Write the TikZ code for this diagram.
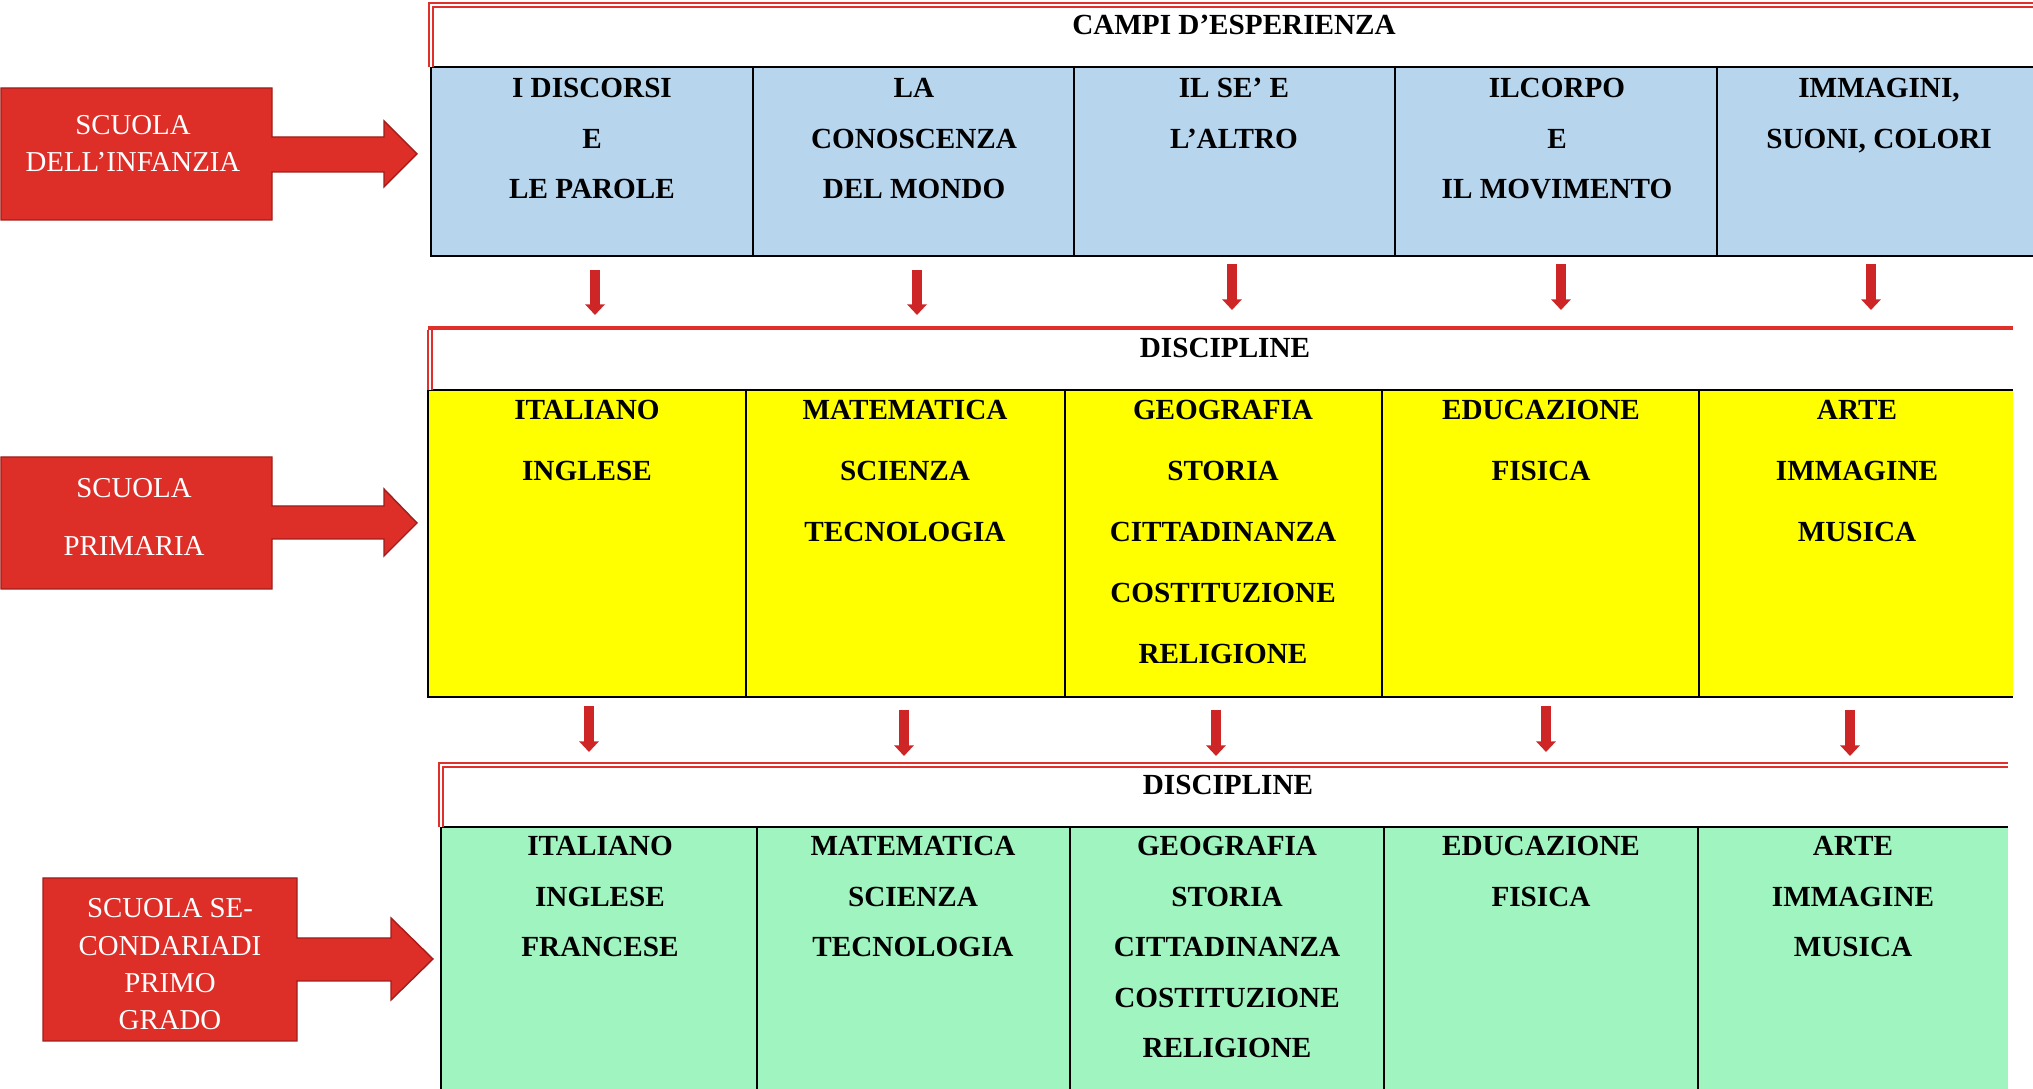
\documentclass[tikz,border=0pt]{standalone}
\usepackage{fontspec}
\setmainfont{Liberation Serif}
\usetikzlibrary{arrows.meta}
\definecolor{schoolred}{RGB}{222,46,40}
\definecolor{schooledge}{RGB}{160,30,28}
\definecolor{headred}{RGB}{224,48,44}
\definecolor{arrowred}{RGB}{206,38,38}
\definecolor{campoblue}{RGB}{183,214,238}
\definecolor{primyellow}{RGB}{255,255,0}
\definecolor{secgreen}{RGB}{160,244,192}
\begin{document}
\begin{tikzpicture}[x=0.01cm, y=-0.01cm, line width=0.55pt,
  every node/.style={inner sep=0pt},
  cell/.style={anchor=north, align=center, font=\bfseries\fontsize{8.3pt}{#1}\selectfont},
  title/.style={font=\bfseries\fontsize{8.3pt}{10pt}\selectfont},
  school/.style={anchor=north, align=center, text=white, font=\fontsize{8.2pt}{#1}\selectfont},
  schoolbox/.style={fill=schoolred, draw=schooledge, line width=0.4pt},
  head/.style={draw=headred, double=white, line width=0.45pt, double distance=0.55pt},
  grid/.style={black, line width=0.55pt},
  downarr/.style={arrowred, line width=2.6pt, -{Triangle[width=5.4pt,length=3pt]}}]
  % page frame (1 unit = 1 px of the 2033 x 1089 picture, y downwards)
  \useasboundingbox (0,0) rectangle (2033,1089);
  \clip (0,0) rectangle (2033,1089);
  % Big red arrows on the left
  \draw[schoolbox] (1,88) -- (272,88) -- (272,137) -- (384,137) -- (384,121)
    -- (417,154) -- (384,187) -- (384,172) -- (272,172) -- (272,220) -- (1,220) -- cycle;
  \node[school=10.5pt] (infanzia) at (133,114.6) {SCUOLA\\DELL’INFANZIA};
  \draw[schoolbox] (1,457) -- (272,457) -- (272,506) -- (384,506) -- (384,489)
    -- (417,523) -- (384,556) -- (384,539) -- (272,539) -- (272,589) -- (1,589) -- cycle;
  \node[school=16.5pt] (primaria) at (134,477.5) {SCUOLA\\PRIMARIA};
  \draw[schoolbox] (43,878) -- (297,878) -- (297,938) -- (391,938) -- (391,918)
    -- (433,959) -- (391,1000) -- (391,981) -- (297,981) -- (297,1041) -- (43,1041) -- cycle;
  \node[school=10.6pt] (secondaria) at (170,897.7) {SCUOLA SE-\\CONDARIADI\\PRIMO\\GRADO};
  % Row 1: campi d'esperienza
  \fill[campoblue] (431,67) rectangle (2040,256);
  \draw[grid] (2040,67) -- (431,67) -- (431,256) -- (2040,256);
  \foreach \x in {753,1074,1395,1717} \draw[grid] (\x,67) -- (\x,256);
  \draw[head] (431,67) -- (431,5) -- (2040,5);
  \node[title] (campi) at (1234,25) {CAMPI D’ESPERIENZA};
  \node[cell=14.4pt] (discorsi) at (592,77.3) {I DISCORSI\\E\\LE PAROLE};
  \node[cell=14.4pt] (mondo) at (914,77.3) {LA\\CONOSCENZA\\DEL MONDO};
  \node[cell=14.4pt] (altro) at (1234,77.3) {IL SE’ E\\L’ALTRO};
  \node[cell=14.4pt] (corpo) at (1557,77.3) {ILCORPO\\E\\IL MOVIMENTO};
  \node[cell=14.4pt] (immagini) at (1879,77.3) {IMMAGINI,\\SUONI, COLORI};
  % Arrows from row 1 to row 2
  \foreach \n/\x/\ya/\yb in {1/595/270/315, 2/917/270/315, 3/1232/264/310,
                             4/1561/264/310, 5/1871/264/310}{
    \coordinate (top\n) at (\x,\ya);
    \coordinate (mid\n) at (\x,\yb);
    \draw[downarr] (top\n) -- (mid\n);
  }
  % Row 2: discipline, scuola primaria
  \fill[primyellow] (428,390) rectangle (2013,697);
  \draw[grid] (2013,390) -- (428,390) -- (428,697) -- (2013,697);
  \foreach \x in {746,1065,1382,1699} \draw[grid] (\x,390) -- (\x,697);
  \draw[head] (430,390) -- (430,330);
  \draw[headred, line width=1.1pt] (428,328) -- (2013,328);
  \node[title] (discprim) at (1225,347.5) {DISCIPLINE};
  \node[cell=17.35pt] (italprim) at (587,399.4) {ITALIANO\\INGLESE};
  \node[cell=17.35pt] (mateprim) at (905,399.4) {MATEMATICA\\SCIENZA\\TECNOLOGIA};
  \node[cell=17.35pt] (geoprim) at (1223,399.4) {GEOGRAFIA\\STORIA\\CITTADINANZA\\COSTITUZIONE\\RELIGIONE};
  \node[cell=17.35pt] (eduprim) at (1541,399.4) {EDUCAZIONE\\FISICA};
  \node[cell=17.35pt] (arteprim) at (1857,399.4) {ARTE\\IMMAGINE\\MUSICA};
  % Arrows from row 2 to row 3
  \foreach \n/\x/\ya/\yb in {1/589/706/752, 2/904/710/756, 3/1216/710/756,
                             4/1546/706/752, 5/1850/710/756}{
    \coordinate (low\n) at (\x,\ya);
    \coordinate (bot\n) at (\x,\yb);
    \draw[downarr] (low\n) -- (bot\n);
  }
  % Row 3: discipline, scuola secondaria di primo grado
  \fill[secgreen] (441,827) rectangle (2008,1095);
  \draw[grid] (2008,827) -- (441,827) -- (441,1095);
  \foreach \x in {757,1070,1384,1698} \draw[grid] (\x,827) -- (\x,1095);
  \draw[head] (441,827) -- (441,765) -- (2008,765);
  \node[title] (discsec) at (1228,785) {DISCIPLINE};
  \node[cell=14.35pt] (italsec) at (600,835.4) {ITALIANO\\INGLESE\\FRANCESE};
  \node[cell=14.35pt] (matesec) at (913,835.4) {MATEMATICA\\SCIENZA\\TECNOLOGIA};
  \node[cell=14.35pt] (geosec) at (1227,835.4) {GEOGRAFIA\\STORIA\\CITTADINANZA\\COSTITUZIONE\\RELIGIONE};
  \node[cell=14.35pt] (edusec) at (1541,835.4) {EDUCAZIONE\\FISICA};
  \node[cell=14.35pt] (artesec) at (1853,835.4) {ARTE\\IMMAGINE\\MUSICA};
\end{tikzpicture}
\end{document}
